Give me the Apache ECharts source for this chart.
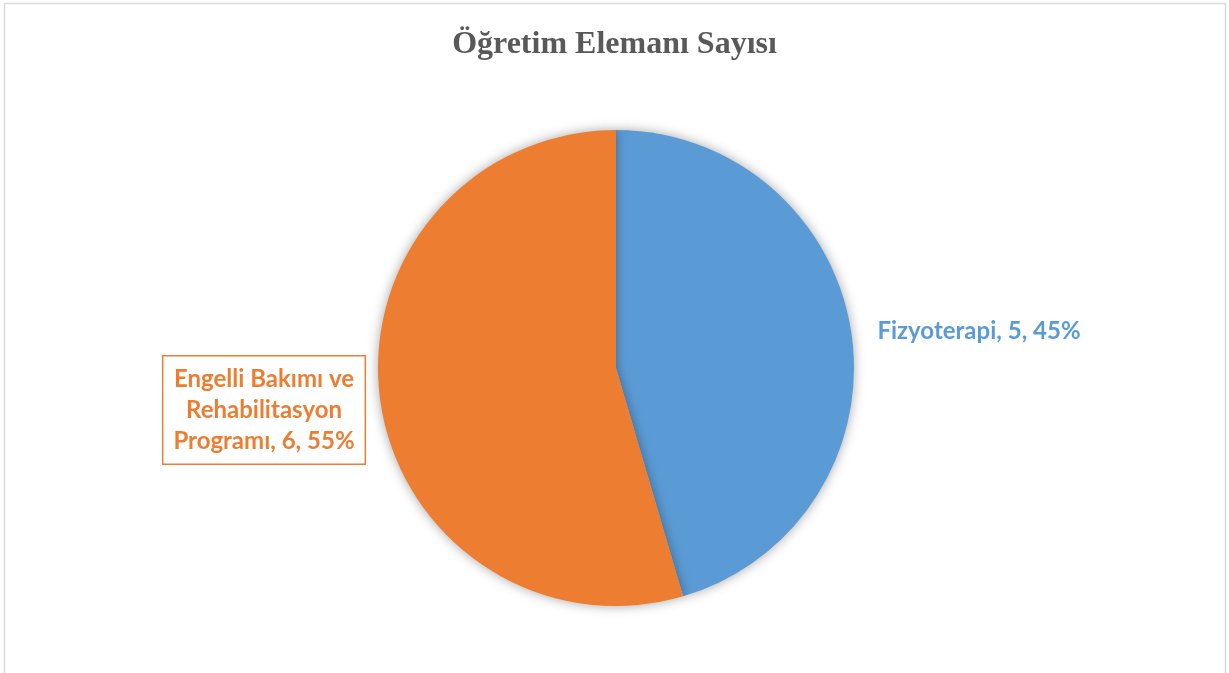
<!DOCTYPE html>
<html><head><meta charset="utf-8">
<script src="https://cdn.jsdelivr.net/npm/echarts@6/dist/echarts.min.js"></script>
<style>html,body{margin:0;padding:0;background:#fff}#c{width:1229px;height:673px}</style>
</head><body><div id="c"></div>
<script>
const titleText = 'Öğretim Elemanı Sayısı';
const categories = ['Fizyoterapi', 'Engelli Bakımı ve\nRehabilitasyon\nProgramı'];
const values = [5, 6];
const colors = ['#5B9BD5', '#ED7D31'];

const chart = echarts.init(document.getElementById('c'));
const labelPos = [
  {x: 979, y: 331},
  {x: 264, y: 410}
];
chart.setOption({
  animation: false,
  graphic: [{type: 'rect', shape: {x: 4.5, y: 3.5, width: 1221, height: 680}, style: {fill: 'none', stroke: '#d9d9d9', lineWidth: 1.5}}],
  title: {text: titleText, left: 'center', top: 24, textStyle: {fontFamily: 'Liberation Serif', fontWeight: 'bold', fontSize: 32, color: '#595959'}},
  series: [{
    type: 'pie',
    center: [616, 368],
    radius: [0, 238],
    startAngle: 90,
    clockwise: true,
    data: categories.map((c, i) => ({
      name: c, value: values[i],
      itemStyle: {color: colors[i]},
      label: i === 1 ? {backgroundColor: '#fff', borderColor: colors[i], borderWidth: 1.5, padding: [8, 10, 6, 10]} : {}
    })),
    itemStyle: {shadowBlur: 12, shadowColor: 'rgba(0,0,0,0.35)'},
    label: {
      show: true,
      formatter: p => p.name + ', ' + p.value + ', ' + Math.round(p.percent) + '%',
      fontFamily: 'Lato', fontWeight: 'bold', fontSize: 24, lineHeight: 31, align: 'center',
      color: 'inherit'
    },
    labelLine: {show: false},
    labelLayout: p => ({x: labelPos[p.dataIndex].x, y: labelPos[p.dataIndex].y, align: 'center', verticalAlign: 'middle'}),
    emphasis: {disabled: true}
  }]
});
</script></body></html>
